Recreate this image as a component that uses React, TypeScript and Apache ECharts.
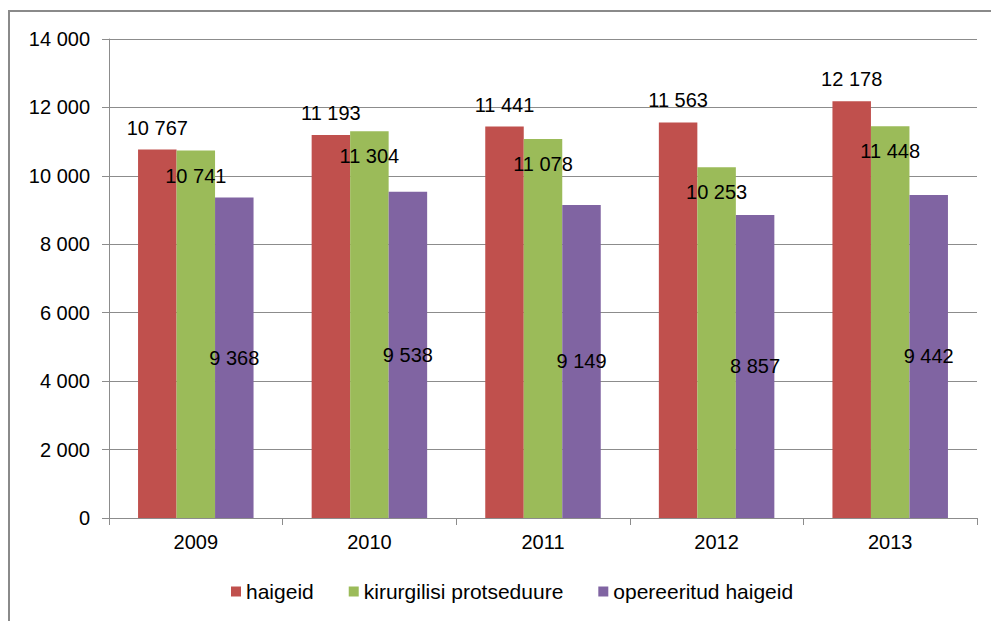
import React, { useEffect, useRef } from "react";
import * as echarts from "echarts";

const years = ["2009", "2010", "2011", "2012", "2013"];
const haigeid = [10767, 11193, 11441, 11563, 12178];
const kirurgilisi = [10741, 11304, 11078, 10253, 11448];
const opereeritud = [9368, 9538, 9149, 8857, 9442];
const seriesNames = ["haigeid", "kirurgilisi protseduure", "opereeritud haigeid"];
const colors = ["#C0504D", "#9BBB59", "#8064A2"];

const fmt = (v: number) => String(v).replace(/\B(?=(\d{3})+(?!\d))/g, " ");
const FONT = "'Liberation Sans', Arial, sans-serif";

export default function App() {
  const ref = useRef<HTMLDivElement>(null);
  useEffect(() => {
    const chart = echarts.init(ref.current!, null, { renderer: "svg" });
    const labelBase = {
      show: true,
      color: "#000",
      fontSize: 20,
      fontFamily: FONT,
      formatter: (p: any) => fmt(p.value),
    };
    chart.setOption({
      animation: false,
      backgroundColor: "#fff",
      color: colors,
      textStyle: { fontFamily: FONT },
      graphic: [
        {
          type: "rect",
          shape: { x: 9, y: 11, width: 1100, height: 800 },
          style: { fill: "none", stroke: "#8a8a8a", lineWidth: 2 },
          silent: true,
          z: -1,
        },
      ],
      grid: { left: 109, top: 39, right: 14, bottom: 103, containLabel: false },
      legend: {
        top: 576,
        left: 226,
        itemWidth: 10,
        itemHeight: 10,
        itemGap: 35,
        icon: "rect",
        textStyle: { fontSize: 21, color: "#000", fontFamily: FONT },
        data: seriesNames,
      },
      xAxis: {
        type: "category",
        data: years,
        boundaryGap: true,
        axisLine: { lineStyle: { color: "#8c8c8c", width: 1 } },
        axisTick: { show: true, length: 7, lineStyle: { color: "#8c8c8c" } },
        axisLabel: { color: "#000", fontSize: 20, fontFamily: FONT, margin: 14 },
      },
      yAxis: {
        type: "value",
        min: 0,
        max: 14000,
        interval: 2000,
        axisLine: { show: true, lineStyle: { color: "#8c8c8c", width: 1 } },
        axisTick: { show: true, length: 7, lineStyle: { color: "#8c8c8c" } },
        splitLine: { lineStyle: { color: "#8c8c8c", width: 1 } },
        axisLabel: { color: "#000", fontSize: 20, fontFamily: FONT, margin: 19, formatter: (v: number) => fmt(v) },
      },
      series: [
        {
          name: seriesNames[0],
          type: "bar",
          data: haigeid,
          barWidth: 38.5,
          barGap: "0%",
          itemStyle: { color: colors[0] },
          label: { ...labelBase, position: "top", distance: 12 },
        },
        {
          name: seriesNames[1],
          type: "bar",
          data: kirurgilisi,
          barWidth: 38.5,
          barGap: "0%",
          itemStyle: { color: colors[1] },
          label: { ...labelBase, position: "insideTop", distance: 15 },
        },
        {
          name: seriesNames[2],
          type: "bar",
          data: opereeritud,
          barWidth: 38.5,
          barGap: "0%",
          itemStyle: { color: colors[2] },
          label: { ...labelBase, position: "inside" },
        },
      ],
    });
    return () => chart.dispose();
  }, []);
  return (
    <div
      ref={ref}
      style={{ position: "absolute", left: 0, top: 0, width: 991, height: 621 }}
    />
  );
}
